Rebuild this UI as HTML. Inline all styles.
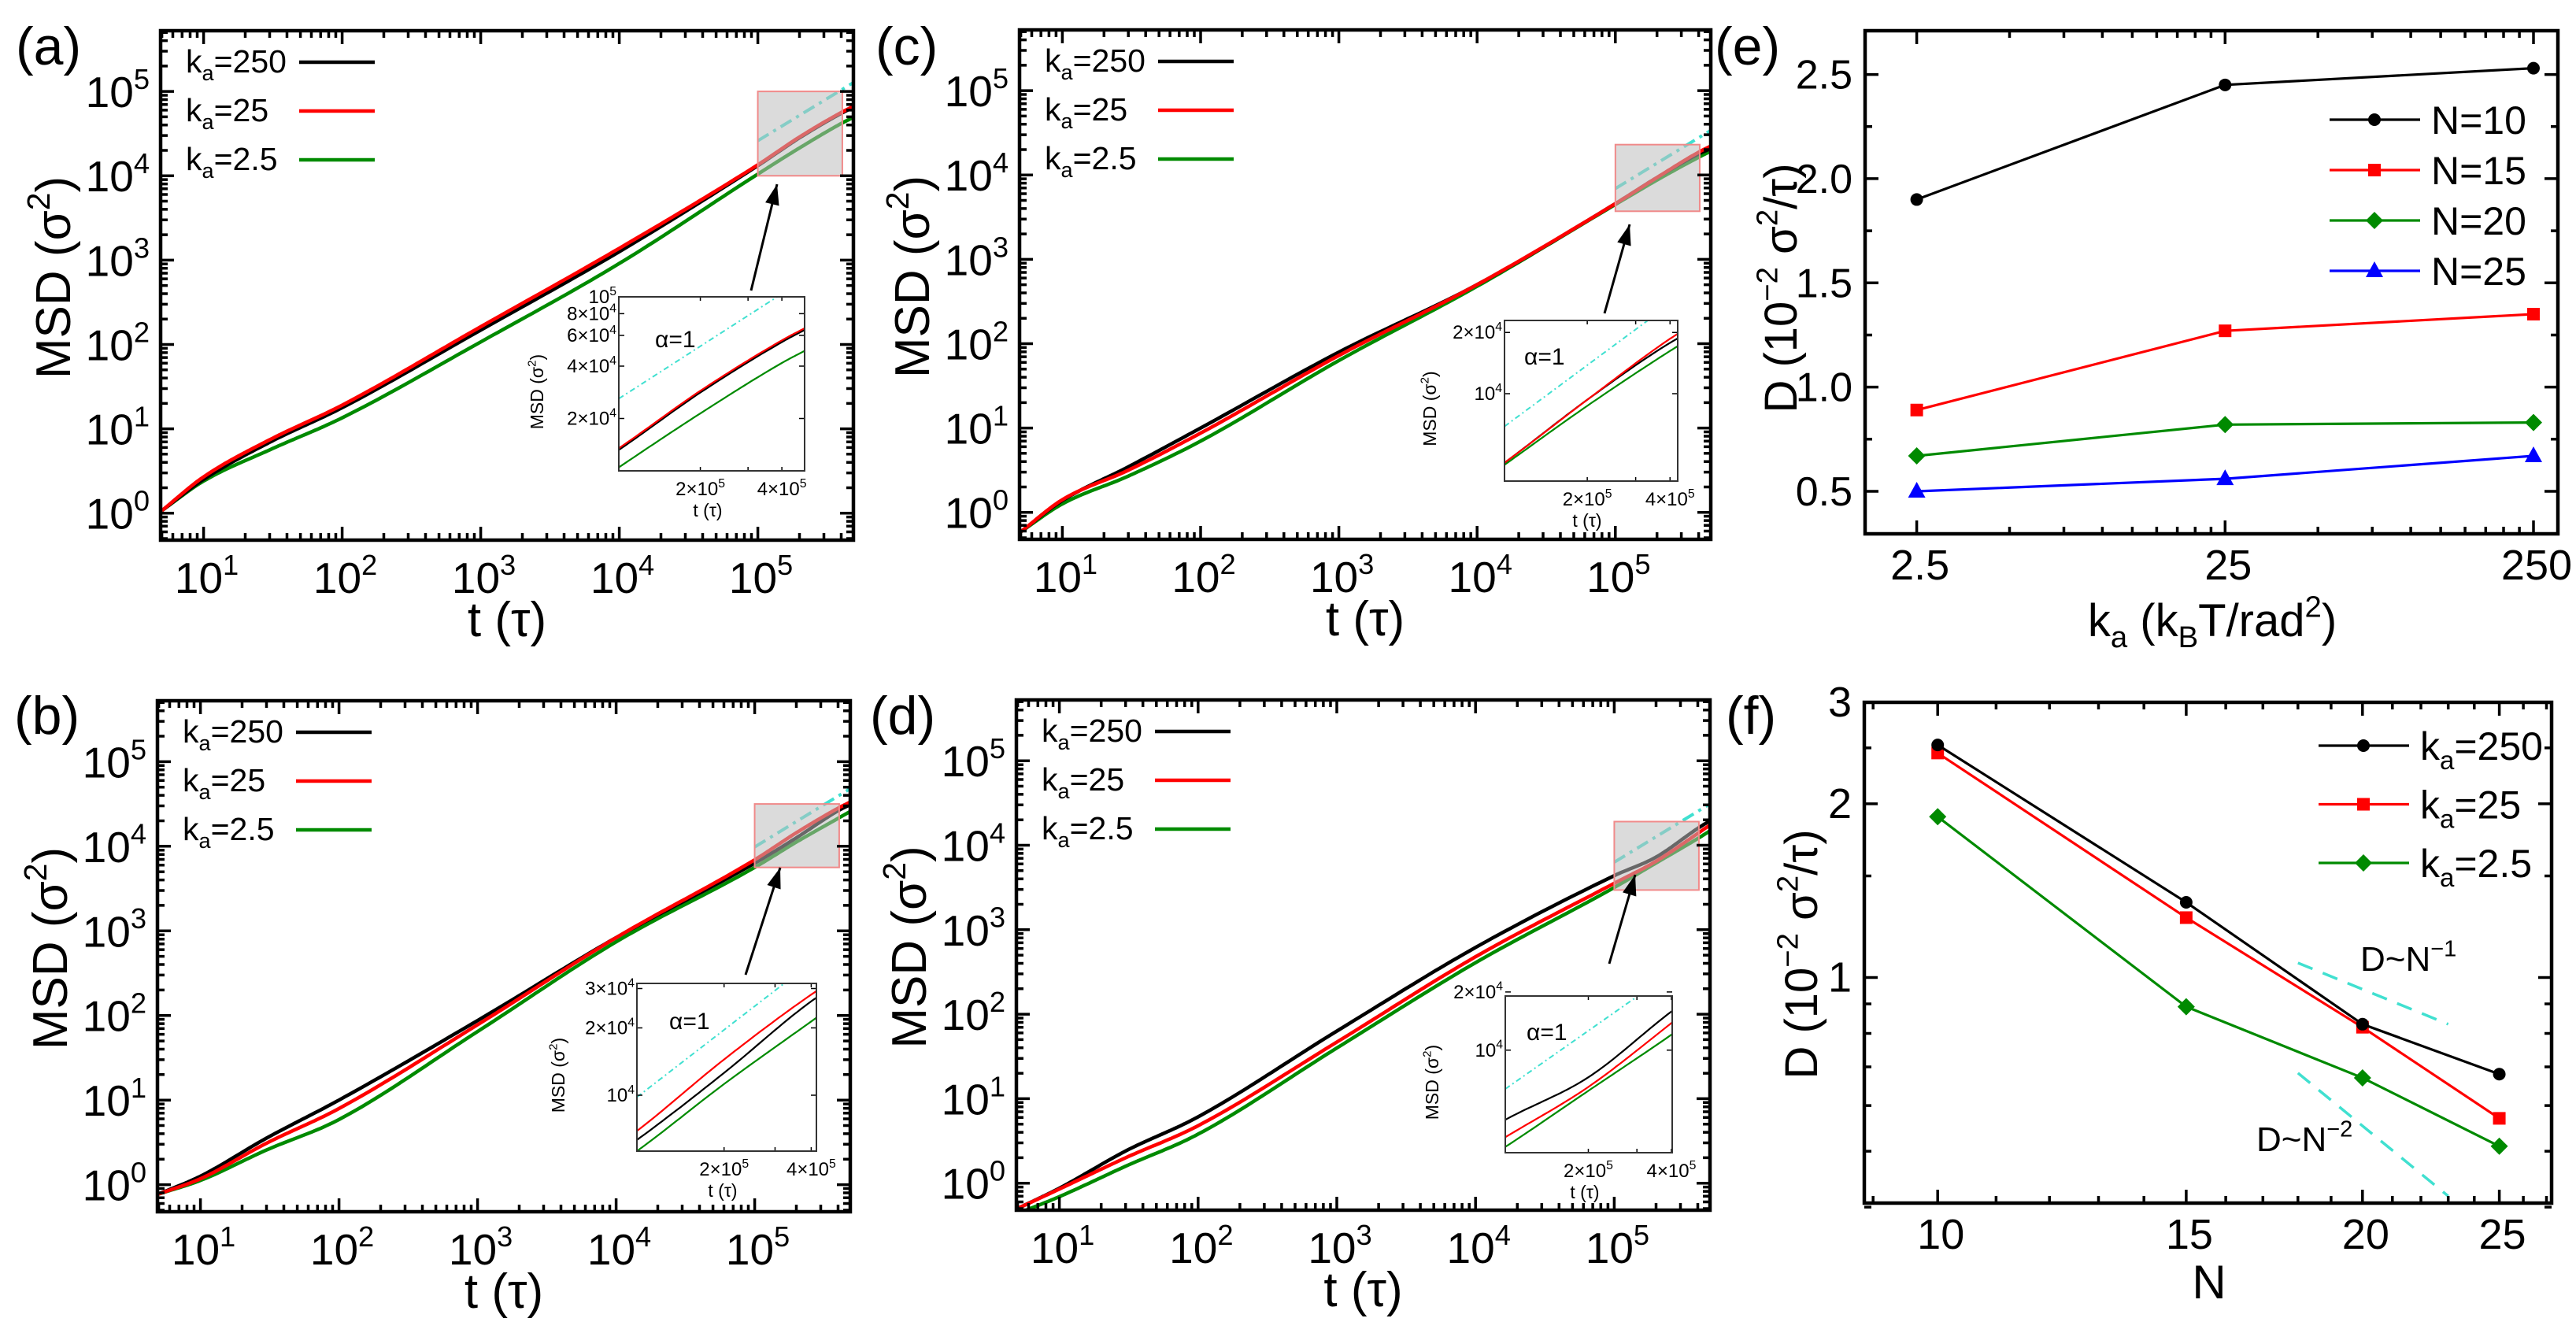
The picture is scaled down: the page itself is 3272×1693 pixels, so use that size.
<!DOCTYPE html>
<html><head><meta charset="utf-8"><title>MSD and diffusion figure</title>
<style>
html,body{margin:0;padding:0;background:#fff;width:3272px;height:1693px;overflow:hidden;}
svg{display:block;overflow:hidden;font-family:"Liberation Sans",Arial,sans-serif;}
</style></head>
<body>
<svg id="figure" xmlns="http://www.w3.org/2000/svg" width="3272" height="1693" viewBox="0 0 3272 1693"></svg>
<script>
// ---------------- data ----------------
const msdTimes = [5, 10, 30, 100, 1e3, 1e4, 1e5, 2e5, 4e5, 5e5];
// log10(MSD)
const msdA_k250 = [0.03, 0.40, 0.84, 1.25, 2.17, 3.10, 4.12, 4.45, 4.74, 4.82];
const msdA_k25  = [0.03, 0.43, 0.87, 1.28, 2.21, 3.14, 4.13, 4.46, 4.75, 4.83];
const msdA_k2_5 = [0.03, 0.38, 0.75, 1.13, 2.03, 2.96, 4.02, 4.33, 4.62, 4.70];
const msdB_k250 = [-0.11, 0.10, 0.55, 1.00, 1.94, 2.92, 3.80, 4.10, 4.42, 4.50];
const msdB_k25  = [-0.11, 0.07, 0.49, 0.90, 1.89, 2.92, 3.84, 4.16, 4.45, 4.53];
const msdB_k2_5 = [-0.11, 0.05, 0.41, 0.77, 1.81, 2.87, 3.75, 4.05, 4.33, 4.42];
const msdC_k250 = [-0.23, 0.14, 0.54, 1.00, 1.90, 2.70, 3.66, 3.97, 4.25, 4.32];
const msdC_k25  = [-0.23, 0.15, 0.50, 0.94, 1.86, 2.70, 3.66, 3.97, 4.27, 4.35];
const msdC_k2_5 = [-0.23, 0.10, 0.43, 0.845, 1.80, 2.68, 3.65, 3.94, 4.21, 4.29];
const msdD_k250 = [-0.30, -0.06, 0.38, 0.785, 1.80, 2.79, 3.64, 3.86, 4.20, 4.30];
const msdD_k25  = [-0.30, -0.07, 0.30, 0.68, 1.67, 2.68, 3.55, 3.81, 4.14, 4.25];
const msdD_k2_5 = [-0.36, -0.16, 0.20, 0.58, 1.60, 2.61, 3.50, 3.79, 4.08, 4.18];
// alpha=1 reference line coefficients (MSD = c * t)
const refCoefA = 0.26, refCoefB = 0.098, refCoefC = 0.069, refCoefD = 0.063;
const msdXTickExps = [1, 2, 3, 4, 5];
const msdYTickExps = [0, 1, 2, 3, 4, 5];
const legendLabels = ["250", "25", "2.5"];
const insetYTicksA = [1e5, 8e4, 6e4, 4e4, 2e4];
const insetYTicksB = [3e4, 2e4, 1e4];
const insetYTicksC = [2e4, 1e4];
const insetYTicksD = [2e4, 1e4];
const insetXTicks = [2e5, 4e5];

// panel e / f
const kaValues = [2.5, 25, 250];
const nValues = [10, 15, 20, 25];
const D_N10 = [1.90, 2.45, 2.53];
const D_N15 = [0.89, 1.27, 1.35];
const D_N20 = [0.67, 0.82, 0.83];
const D_N25 = [0.50, 0.56, 0.67];
const D_ka250 = [2.53, 1.35, 0.83, 0.68];
const D_ka25  = [2.45, 1.27, 0.82, 0.57];
const D_ka2_5 = [1.90, 0.89, 0.67, 0.51];
const eYTicks = [0.5, 1.0, 1.5, 2.0, 2.5];
const eYTickLabels = ["0.5", "1.0", "1.5", "2.0", "2.5"];
const eXTickLabels = ["2.5", "25", "250"];
const fYTicks = [1, 2, 3];
const fXTicks = [10, 15, 20, 25];
const refN1_N = [18, 23], refN1_D = [1.06, 0.83];
const refN2_N = [18, 23], refN2_D = [0.683, 0.418];

// ---------------- helpers ----------------
const NS = 'http://www.w3.org/2000/svg';
const svg = document.getElementById('figure');
function E(tag, attrs, parent) {
  const e = document.createElementNS(NS, tag);
  for (const k in attrs) e.setAttribute(k, attrs[k]);
  (parent || svg).appendChild(e);
  return e;
}
function T(parent, x, y, parts, size, anchor, rot) {
  const t = E('text', {x: x, y: y, 'font-size': size, 'text-anchor': anchor || 'start', fill: '#000'}, parent);
  if (rot) t.setAttribute('transform', 'rotate(-90 ' + x + ' ' + y + ')');
  let cur = 0;
  parts.forEach(p => {
    const s = typeof p === 'string' ? p : p[0];
    const k = typeof p === 'string' ? 'n' : p[1];
    const target = k === 'sup' ? -0.42 * size : (k === 'sub' ? 0.24 * size : 0);
    const ts = E('tspan', {dy: (target - cur).toFixed(1), 'font-size': k === 'n' ? size : (size * 0.66).toFixed(1)}, t);
    ts.textContent = s;
    cur = target;
  });
  return t;
}
function lin(d0, d1, p0, p1) { return v => p0 + (v - d0) / (d1 - d0) * (p1 - p0); }
function monoPath(xs, ys, X, Y) {
  const n = xs.length, d = [], m = [];
  for (let i = 0; i < n - 1; i++) d.push((ys[i + 1] - ys[i]) / (xs[i + 1] - xs[i]));
  m[0] = d[0]; m[n - 1] = d[n - 2];
  for (let i = 1; i < n - 1; i++) m[i] = (d[i - 1] * d[i] <= 0) ? 0 : (d[i - 1] + d[i]) / 2;
  for (let i = 0; i < n - 1; i++) {
    if (d[i] === 0) { m[i] = 0; m[i + 1] = 0; continue; }
    const a = m[i] / d[i], b = m[i + 1] / d[i], s = a * a + b * b;
    if (s > 9) { const tt = 3 / Math.sqrt(s); m[i] = tt * a * d[i]; m[i + 1] = tt * b * d[i]; }
  }
  let path = 'M' + X(xs[0]).toFixed(1) + ',' + Y(ys[0]).toFixed(1);
  for (let i = 0; i < n - 1; i++) {
    const h = xs[i + 1] - xs[i], N = 24;
    for (let k = 1; k <= N; k++) {
      const t = k / N, t2 = t * t, t3 = t2 * t;
      const y = (2 * t3 - 3 * t2 + 1) * ys[i] + (t3 - 2 * t2 + t) * h * m[i] + (-2 * t3 + 3 * t2) * ys[i + 1] + (t3 - t2) * h * m[i + 1];
      path += ' L' + X(xs[i] + t * h).toFixed(1) + ',' + Y(y).toFixed(1);
    }
  }
  return path;
}
function logTicks(lo, hi) {
  const out = [];
  for (let k = Math.floor(lo) - 1; k <= Math.ceil(hi); k++)
    for (let m = 1; m <= 9; m++) {
      const v = Math.log10(m * Math.pow(10, k));
      if (v >= lo - 1e-9 && v <= hi + 1e-9) out.push({v: v, major: m === 1});
    }
  return out;
}
let clipId = 0;
function clipRect(l, t, r, b) {
  const id = 'clip' + (clipId++);
  const cp = E('clipPath', {id: id});
  E('rect', {x: l, y: t, width: r - l, height: b - t}, cp);
  return 'url(#' + id + ')';
}
const COLORS = ['#000000', '#ff0000', '#008a00'];
const SERIES_NAMES = ['ka-250', 'ka-25', 'ka-2.5'];

// ---------------- MSD panels ----------------
const XD = [0.69, 5.69], YD = [-0.32, 5.72];
const msdPanels = [
  {id: 'a', l: 204, r: 1084, t: 39, b: 686, vals: [msdA_k250, msdA_k25, msdA_k2_5], c: refCoefA,
   inset: {l: 786, r: 1022, t: 377, b: 598}, inX: [5.0, 5.686], inY: [4.0, 5.0], yt: insetYTicksA, adx: 46, ady: 64, mdx: 104,
   arrow: [954, 369, 987, 234], lab: [20, 82]},
  {id: 'c', l: 1295, r: 2173, t: 38, b: 685, vals: [msdC_k250, msdC_k25, msdC_k2_5], c: refCoefC,
   inset: {l: 1911, r: 2131, t: 407, b: 611}, inX: [5.0, 5.63], inY: [3.57, 4.36], yt: insetYTicksC, adx: 25, ady: 56, mdx: 95,
   arrow: [2038, 398, 2070, 285], lab: [1112, 82]},
  {id: 'b', l: 200, r: 1080, t: 890, b: 1539, vals: [msdB_k250, msdB_k25, msdB_k2_5], c: refCoefB,
   inset: {l: 809, r: 1037, t: 1249, b: 1462}, inX: [5.0, 5.62], inY: [3.75, 4.5], yt: insetYTicksB, adx: 41, ady: 58, mdx: 100,
   arrow: [947, 1238, 991, 1102], lab: [18, 932]},
  {id: 'd', l: 1291, r: 2172, t: 889, b: 1537, vals: [msdD_k250, msdD_k25, msdD_k2_5], c: refCoefD,
   inset: {l: 1912, r: 2124, t: 1265, b: 1464}, inX: [5.0, 5.605], inY: [3.47, 4.28], yt: insetYTicksD, adx: 27, ady: 56, mdx: 93,
   arrow: [2044, 1224, 2077, 1111], lab: [1105, 932]}
];
const logTimes = msdTimes.map(t => Math.log10(t));

function drawMSD(P) {
  const g = E('g', {});
  
  
  const X = lin(XD[0], XD[1], P.l, P.r), Y = lin(YD[0], YD[1], P.b, P.t);
  const clip = clipRect(P.l, P.t, P.r, P.b);
  const plot = E('g', {'clip-path': clip}, g);
  
  
  [2, 0, 1].forEach(si => {
    const p = E('path', {d: monoPath(logTimes, P.vals[si], X, Y), fill: 'none', stroke: COLORS[si], 'stroke-width': 4.5, 'stroke-linejoin': 'round'}, plot);
    
    
  });
  const lc = Math.log10(P.c);
  const ref = E('line', {x1: X(5.0), y1: Y(lc + 5.0), x2: X(5.69), y2: Y(lc + 5.69), stroke: '#40e0d0', 'stroke-width': 4, 'stroke-dasharray': '16,7,4,7'}, plot);
  
  
  const zb = E('rect', {x: X(5.0), y: Y(P.inY[1]), width: X(5.61) - X(5.0), height: Y(P.inY[0]) - Y(P.inY[1]), fill: 'rgba(190,190,190,0.55)', stroke: '#f08a8a', 'stroke-width': 2}, plot);
  
  
  const [ax1, ay1, ax2, ay2] = P.arrow;
  const al = E('line', {x1: ax1, y1: ay1, x2: ax2, y2: ay2, stroke: '#000', 'stroke-width': 3}, g);
  
  
  const ang = Math.atan2(ay2 - ay1, ax2 - ax1), hl = 26, hw = 9;
  const bx = ax2 - hl * Math.cos(ang), by = ay2 - hl * Math.sin(ang);
  const ah = E('polygon', {points: ax2 + ',' + ay2 + ' ' + (bx + hw * Math.sin(ang)) + ',' + (by - hw * Math.cos(ang)) + ' ' + (bx - hw * Math.sin(ang)) + ',' + (by + hw * Math.cos(ang)), fill: '#000'}, g);
  
  

  const I = P.inset;
  const ig = E('g', {'clip-path': clip}, g);
  
  
  const ibg = E('rect', {x: I.l, y: I.t, width: I.r - I.l, height: I.b - I.t, fill: '#fff'}, ig);
  
  
  const X2 = lin(P.inX[0], P.inX[1], I.l, I.r), Y2 = lin(P.inY[0], P.inY[1], I.b, I.t);
  const iclip = clipRect(I.l, I.t, I.r, I.b);
  const ip = E('g', {'clip-path': iclip}, ig);
  
  
  const iref = E('line', {x1: X2(P.inX[0]), y1: Y2(lc + P.inX[0]), x2: X2(P.inX[1]), y2: Y2(lc + P.inX[1]), stroke: '#40e0d0', 'stroke-width': 2, 'stroke-dasharray': '7,4,2,4'}, ip);
  
  
  [2, 0, 1].forEach(si => {
    const p = E('path', {d: monoPath(logTimes, P.vals[si], X2, Y2), fill: 'none', stroke: COLORS[si], 'stroke-width': 2.2}, ip);
    
    
  });
  let itk = '';
  logTicks(P.inX[0], P.inX[1]).forEach(tk => { const x = X2(tk.v), L = tk.major ? 8 : 5; itk += 'M' + x + ',' + I.b + 'v' + (-L) + 'M' + x + ',' + I.t + 'v' + L; });
  P.yt.forEach(v => { const y = Y2(Math.log10(v)); itk += 'M' + I.l + ',' + y + 'h7M' + I.r + ',' + y + 'h-7'; });
  const itp = E('path', {d: itk, stroke: '#000', 'stroke-width': 1.5, fill: 'none'}, ig);
  
  
  const ifr = E('rect', {x: I.l, y: I.t, width: I.r - I.l, height: I.b - I.t, fill: 'none', stroke: '#333', 'stroke-width': 2}, ig);
  
  
  insetXTicks.forEach(v => {
    const e = Math.floor(Math.log10(v)), m = Math.round(v / Math.pow(10, e));
    const t = T(ig, X2(Math.log10(v)), I.b + 31, [m + '×10', [String(e), 'sup']], 24, 'middle');
    
    
  });
  P.yt.forEach(v => {
    const e = Math.floor(Math.log10(v) + 1e-9), m = Math.round(v / Math.pow(10, e));
    const parts = m === 1 ? ['10', [String(e), 'sup']] : [m + '×10', [String(e), 'sup']];
    const t = T(ig, I.l - 3, Y2(Math.log10(v)) + 8, parts, 24, 'end');
    
    
  });
  const ixt = T(ig, (I.l + I.r) / 2 - 5, I.b + 58, ['t (τ)'], 23, 'middle');
  
  
  const iyt = T(ig, I.l - P.mdx + 8, (I.t + I.b) / 2 + 10, ['MSD (σ', ['2', 'sup'], ')'], 23, 'middle', true);
  
  
  const alpha = T(ig, I.l + P.adx, I.t + P.ady, ['α=1'], 30, 'start');
  
  

  let tk = '';
  logTicks(XD[0], XD[1]).forEach(o => { const x = X(o.v), L = o.major ? 17 : 9; tk += 'M' + x.toFixed(1) + ',' + P.b + 'v' + (-L) + 'M' + x.toFixed(1) + ',' + P.t + 'v' + L; });
  logTicks(YD[0], YD[1]).forEach(o => { const y = Y(o.v), L = o.major ? 17 : 9; tk += 'M' + P.l + ',' + y.toFixed(1) + 'h' + L + 'M' + P.r + ',' + y.toFixed(1) + 'h' + (-L); });
  const tp = E('path', {d: tk, stroke: '#000', 'stroke-width': 3.5, fill: 'none'}, g);
  
  
  const fr = E('rect', {x: P.l, y: P.t, width: P.r - P.l, height: P.b - P.t, fill: 'none', stroke: '#000', 'stroke-width': 4.5}, g);
  
  
  msdXTickExps.forEach(e => {
    const t = T(g, X(e) + 4, P.b + 67, ['10', [String(e), 'sup']], 55, 'middle');
    
    
  });
  msdYTickExps.forEach(e => {
    const t = T(g, P.l - 14, Y(e) + 20, ['10', [String(e), 'sup']], 55, 'end');
    
    
  });
  const xt = T(g, (P.l + P.r) / 2, P.b + 122, ['t (τ)'], 62, 'middle');
  
  
  const yt = T(g, P.l - 115, (P.t + P.b) / 2 - 10, ['MSD (σ', ['2', 'sup'], ')'], 62, 'middle', true);
  
  
  legendLabels.forEach((lb, i) => {
    const by = P.t + 53 + 62 * i;
    const t = T(g, P.l + 32, by, ['k', ['a', 'sub'], '=' + lb], 41, 'start');
    
    
    const ln = E('line', {x1: P.l + 176, y1: by - 13, x2: P.l + 272, y2: by - 13, stroke: COLORS[i], 'stroke-width': 4.5}, g);
    
    
  });
  const pl = T(g, P.lab[0], P.lab[1], ['(' + P.id + ')'], 68, 'start');
  
  
}
msdPanels.forEach(drawMSD);

// ---------------- markers ----------------
function marker(parent, kind, x, y, color) {
  let m;
  if (kind === 'circle') m = E('circle', {cx: x, cy: y, r: 8, fill: color}, parent);
  else if (kind === 'square') m = E('rect', {x: x - 8, y: y - 8, width: 16, height: 16, fill: color}, parent);
  else if (kind === 'diamond') m = E('polygon', {points: x + ',' + (y - 11) + ' ' + (x + 11) + ',' + y + ' ' + x + ',' + (y + 11) + ' ' + (x - 11) + ',' + y, fill: color}, parent);
  else m = E('polygon', {points: x + ',' + (y - 12) + ' ' + (x + 11) + ',' + (y + 8) + ' ' + (x - 11) + ',' + (y + 8), fill: color}, parent);
  return m;
}

// ---------------- panel e ----------------
(function () {
  const P = {l: 2369, r: 3249, t: 39, b: 678};
  const g = E('g', {});
  
  
  const X = lin(Math.log10(1.7), Math.log10(300), P.l, P.r), Y = lin(0.296, 2.71, P.b, P.t);
  const series = [D_N10, D_N15, D_N20, D_N25];
  const cols = ['#000000', '#ff0000', '#008a00', '#0000ff'];
  const kinds = ['circle', 'square', 'diamond', 'triangle'];
  const names = ['N-10', 'N-15', 'N-20', 'N-25'];
  series.forEach((s, si) => {
    const pts = kaValues.map((k, i) => X(Math.log10(k)).toFixed(1) + ',' + Y(s[i]).toFixed(1)).join(' ');
    const pl = E('polyline', {points: pts, fill: 'none', stroke: cols[si], 'stroke-width': 3.2}, g);
    
    
    kaValues.forEach((k, i) => {
      const m = marker(g, kinds[si], X(Math.log10(k)), Y(s[i]), cols[si]);
      
      
    });
  });
  let tk = '';
  [0, 1].forEach(dec => { for (let m = 1; m <= 9; m++) { const x = X(Math.log10(2.5 * m * Math.pow(10, dec))), L = m === 1 ? 17 : 9; tk += 'M' + x.toFixed(1) + ',' + P.b + 'v' + (-L) + 'M' + x.toFixed(1) + ',' + P.t + 'v' + L; } });
  { const x = X(Math.log10(250)); tk += 'M' + x.toFixed(1) + ',' + P.b + 'v-17M' + x.toFixed(1) + ',' + P.t + 'v17'; }
  for (let v = 0.5; v <= 2.55; v += 0.25) { const y = Y(v), L = (Math.round(v * 100) % 50 === 0) ? 17 : 9; tk += 'M' + P.l + ',' + y.toFixed(1) + 'h' + L + 'M' + P.r + ',' + y.toFixed(1) + 'h' + (-L); }
  const tp = E('path', {d: tk, stroke: '#000', 'stroke-width': 3.5, fill: 'none'}, g);
  
  
  const fr = E('rect', {x: P.l, y: P.t, width: P.r - P.l, height: P.b - P.t, fill: 'none', stroke: '#000', 'stroke-width': 4.5}, g);
  
  
  eYTicks.forEach((v, i) => {
    const t = T(g, P.l - 16, Y(v) + 18, [eYTickLabels[i]], 52, 'end');
    
    
  });
  kaValues.forEach((k, i) => {
    const t = T(g, X(Math.log10(k)) + 4, P.b + 58, [eXTickLabels[i]], 54, 'middle');
    
    
  });
  const xt = T(g, 2810, 808, ['k', ['a', 'sub'], ' (k', ['B', 'sub'], 'T/rad', ['2', 'sup'], ')'], 58, 'middle');
  
  
  const yt = T(g, 2282, 366, ['D (10', ['−2', 'sup'], ' σ', ['2', 'sup'], '/τ)'], 58, 'middle', true);
  
  
  ['N=10', 'N=15', 'N=20', 'N=25'].forEach((lb, i) => {
    const y = 152 + 64 * i;
    const ln = E('line', {x1: 2959, y1: y, x2: 3074, y2: y, stroke: cols[i], 'stroke-width': 3.2}, g);
    
    
    const m = marker(g, kinds[i], 3016, y, cols[i]);
    
    
    const t = T(g, 3088, y + 18, [lb], 50, 'start');
    
    
  });
  const pl = T(g, 2178, 82, ['(e)'], 68, 'start');
  
  
})();

// ---------------- panel f ----------------
(function () {
  const P = {l: 2368, r: 3241, t: 892, b: 1528};
  const g = E('g', {});
  
  
  const X = lin(0.948, 1.435, P.l, P.r), Y = lin(-0.391, 0.477, P.b, P.t);
  const series = [D_ka250, D_ka25, D_ka2_5];
  const kinds = ['circle', 'square', 'diamond'];
  [[refN1_N, refN1_D, 'reference-line-N-1'], [refN2_N, refN2_D, 'reference-line-N-2']].forEach(rl => {
    const l = E('line', {x1: X(Math.log10(rl[0][0])), y1: Y(Math.log10(rl[1][0])), x2: X(Math.log10(rl[0][1])), y2: Y(Math.log10(rl[1][1])), stroke: '#40e0d0', 'stroke-width': 3.5, 'stroke-dasharray': '20,14'}, g);
    
    
  });
  [2, 1, 0].forEach(si => {
    const s = series[si];
    const pts = nValues.map((n, i) => X(Math.log10(n)).toFixed(1) + ',' + Y(Math.log10(s[i])).toFixed(1)).join(' ');
    const pl = E('polyline', {points: pts, fill: 'none', stroke: COLORS[si], 'stroke-width': 3.2}, g);
    
    
    nValues.forEach((n, i) => {
      const m = marker(g, kinds[si], X(Math.log10(n)), Y(Math.log10(s[i])), COLORS[si]);
      
      
    });
  });
  let tk = '';
  for (let n = 9; n <= 27; n++) { const x = X(Math.log10(n)), L = (n % 5 === 0) ? 17 : 9; tk += 'M' + x.toFixed(1) + ',' + P.b + 'v' + (-L) + 'M' + x.toFixed(1) + ',' + P.t + 'v' + L; }
  [0.4, 0.5, 0.6, 0.7, 0.8, 0.9, 1, 1.5, 2, 2.5, 3].forEach(v => { const y = Y(Math.log10(v)), L = (v === 1 || v === 2 || v === 3) ? 17 : 9; tk += 'M' + P.l + ',' + y.toFixed(1) + 'h' + L + 'M' + P.r + ',' + y.toFixed(1) + 'h' + (-L); });
  const tp = E('path', {d: tk, stroke: '#000', 'stroke-width': 3.5, fill: 'none'}, g);
  
  
  const fr = E('rect', {x: P.l, y: P.t, width: P.r - P.l, height: P.b - P.t, fill: 'none', stroke: '#000', 'stroke-width': 4.5}, g);
  
  
  fYTicks.forEach(v => {
    const t = T(g, P.l - 16, Y(Math.log10(v)) + 18, [String(v)], 54, 'end');
    
    
  });
  fXTicks.forEach(n => {
    const t = T(g, X(Math.log10(n)) + 4, P.b + 58, [String(n)], 54, 'middle');
    
    
  });
  const xt = T(g, 2806, 1649, ['N'], 60, 'middle');
  
  
  const yt = T(g, 2308, 1212, ['D (10', ['−2', 'sup'], ' σ', ['2', 'sup'], '/τ)'], 58, 'middle', true);
  
  
  const a1 = T(g, 2998, 1233, ['D~N', ['−1', 'sup']], 44, 'start');
  
  
  const a2 = T(g, 2866, 1462, ['D~N', ['−2', 'sup']], 44, 'start');
  
  
  legendLabels.forEach((lb, i) => {
    const y = 947 + 74.5 * i;
    const ln = E('line', {x1: 2945, y1: y, x2: 3060, y2: y, stroke: COLORS[i], 'stroke-width': 3.2}, g);
    
    
    const m = marker(g, kinds[i], 3002, y, COLORS[i]);
    
    
    const t = T(g, 3074, y + 18, ['k', ['a', 'sub'], '=' + lb], 50, 'start');
    
    
  });
  const pl = T(g, 2192, 932, ['(f)'], 68, 'start');
  
  
})();
</script>
</body></html>
